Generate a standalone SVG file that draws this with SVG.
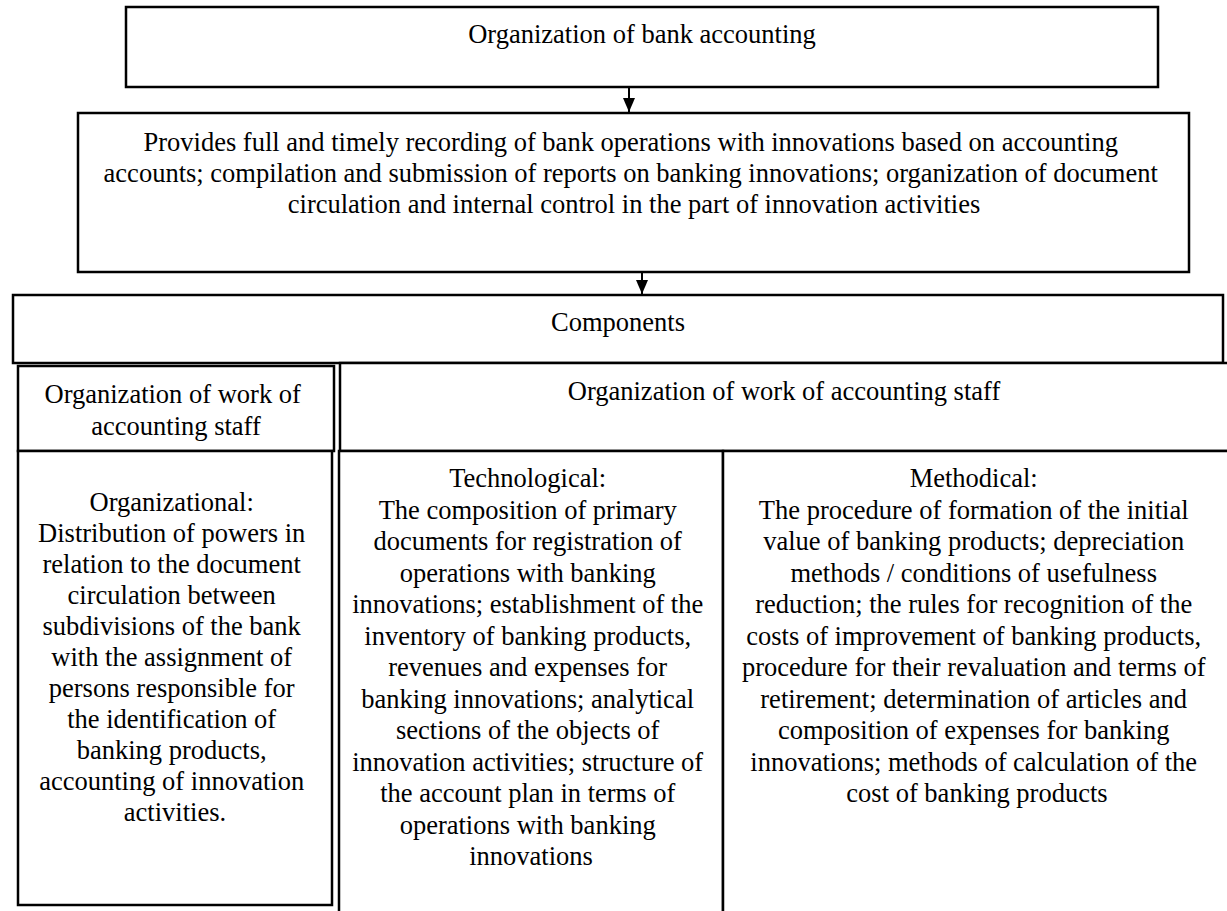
<svg xmlns="http://www.w3.org/2000/svg" width="1227" height="911" viewBox="0 0 1227 911">
  <style>
    .box { fill: #ffffff; stroke: #000000; stroke-width: 2.5; }
    .edge { fill: none; stroke: #000000; stroke-width: 2; }
    .lbl { font-family: "Liberation Serif", "Times New Roman", serif; font-size: 26.5px; fill: #000000; text-anchor: middle; }
  </style>
  <defs>
    <marker id="arrowhead" viewBox="0 0 14 12" refX="14" refY="6" markerWidth="14" markerHeight="12" markerUnits="userSpaceOnUse" orient="auto">
      <path d="M0,0 L14,6 L0,12 Z" fill="#000000"/>
    </marker>
  </defs>
  <rect width="1227" height="911" fill="#ffffff"/>

  <!-- top level -->
  <g id="node-organization">
    <rect class="box" x="126" y="7" width="1032" height="80"/>
    <text class="lbl" x="642" y="43">Organization of bank accounting</text>
  </g>

  <g id="node-provides">
    <rect class="box" x="78" y="113" width="1111" height="159"/>
    <text class="lbl" y="151">
      <tspan x="634">Provides full and timely recording of bank operations with innovations based on accounting</tspan>
      <tspan x="634" dy="31">accounts; compilation and submission of reports on banking innovations; organization of document</tspan>
      <tspan x="634" dy="31">circulation and internal control in the part of innovation activities</tspan>
    </text>
  </g>

  <g id="node-components">
    <rect class="box" x="13" y="295" width="1210" height="68"/>
    <line class="edge" x1="1223" y1="363" x2="1227" y2="363"/>
    <text class="lbl" x="618" y="331">Components</text>
  </g>

  <!-- column headers -->
  <g id="node-header-left">
    <rect class="box" x="18" y="366" width="316" height="85"/>
    <text class="lbl" y="403">
      <tspan x="176">Organization of work of</tspan>
      <tspan x="176" dy="32">accounting staff</tspan>
    </text>
  </g>

  <g id="node-header-right">
    <rect class="box" x="340" y="363" width="892" height="88"/>
    <text class="lbl" x="784" y="400">Organization of work of accounting staff</text>
  </g>

  <!-- component columns -->
  <g id="node-organizational">
    <rect class="box" x="18" y="451" width="314" height="454"/>
    <text class="lbl" y="511">
      <tspan x="175">Organizational:</tspan>
      <tspan x="175" dy="31">Distribution of powers in</tspan>
      <tspan x="175" dy="31">relation to the document</tspan>
      <tspan x="175" dy="31">circulation between</tspan>
      <tspan x="175" dy="31">subdivisions of the bank</tspan>
      <tspan x="175" dy="31">with the assignment of</tspan>
      <tspan x="175" dy="31">persons responsible for</tspan>
      <tspan x="175" dy="31">the identification of</tspan>
      <tspan x="175" dy="31">banking products,</tspan>
      <tspan x="175" dy="31">accounting of innovation</tspan>
      <tspan x="175" dy="31">activities.</tspan>
    </text>
  </g>

  <g id="node-technological">
    <rect class="box" x="339" y="451" width="384" height="470"/>
    <text class="lbl" y="487">
      <tspan x="531">Technological:</tspan>
      <tspan x="531" dy="31.5">The composition of primary</tspan>
      <tspan x="531" dy="31.5">documents for registration of</tspan>
      <tspan x="531" dy="31.5">operations with banking</tspan>
      <tspan x="531" dy="31.5">innovations; establishment of the</tspan>
      <tspan x="531" dy="31.5">inventory of banking products,</tspan>
      <tspan x="531" dy="31.5">revenues and expenses for</tspan>
      <tspan x="531" dy="31.5">banking innovations; analytical</tspan>
      <tspan x="531" dy="31.5">sections of the objects of</tspan>
      <tspan x="531" dy="31.5">innovation activities; structure of</tspan>
      <tspan x="531" dy="31.5">the account plan in terms of</tspan>
      <tspan x="531" dy="31.5">operations with banking</tspan>
      <tspan x="531" dy="31.5">innovations</tspan>
    </text>
  </g>

  <g id="node-methodical">
    <rect class="box" x="723" y="451" width="510" height="470"/>
    <text class="lbl" y="487">
      <tspan x="977">Methodical:</tspan>
      <tspan x="977" dy="31.5">The procedure of formation of the initial</tspan>
      <tspan x="977" dy="31.5">value of banking products; depreciation</tspan>
      <tspan x="977" dy="31.5">methods / conditions of usefulness</tspan>
      <tspan x="977" dy="31.5">reduction; the rules for recognition of the</tspan>
      <tspan x="977" dy="31.5">costs of improvement of banking products,</tspan>
      <tspan x="977" dy="31.5">procedure for their revaluation and terms of</tspan>
      <tspan x="977" dy="31.5">retirement; determination of articles and</tspan>
      <tspan x="977" dy="31.5">composition of expenses for banking</tspan>
      <tspan x="977" dy="31.5">innovations; methods of calculation of the</tspan>
      <tspan x="977" dy="31.5">cost of banking products</tspan>
    </text>
  </g>

  <!-- connectors -->
  <g id="connectors">
    <line class="edge" x1="629" y1="87" x2="629" y2="112" marker-end="url(#arrowhead)"/>
    <line class="edge" x1="642" y1="272" x2="642" y2="294" marker-end="url(#arrowhead)"/>
  </g>
</svg>
